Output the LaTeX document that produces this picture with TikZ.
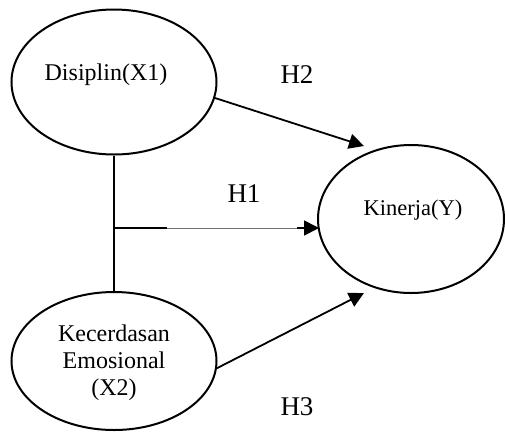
\documentclass[tikz,border=0pt]{standalone}
\usepackage{fontspec}
\setmainfont{Liberation Serif}
\usetikzlibrary{shapes.geometric,arrows.meta}
\tikzset{
  var/.style={draw, ellipse, line width=2pt, inner sep=0pt},
  txt/.style={font=\fontsize{24}{27}\selectfont, align=center, inner sep=0pt},
  hyp/.style={font=\fontsize{27}{30}\selectfont, inner sep=0pt},
  conn/.style={line width=1.8pt},
  arr/.style={line width=1.8pt, -{Triangle[length=15pt,width=15pt]}},
  thin/.style={line width=0.8pt, black!55}
}
\begin{document}
\begin{tikzpicture}[x=1pt,y=-1pt]
\useasboundingbox (0,0) rectangle (505,432);
\node[var, minimum width=205pt, minimum height=145pt] (X1) at (114,82) {};
\node[var, minimum width=205pt, minimum height=138pt] (X2) at (114,361) {};
\node[var, minimum width=186pt, minimum height=148pt] (Y) at (411,219) {};
\node[txt] (t1) at (106,75) {Disiplin(X1)};
\node[txt] (t2) at (114,363) {Kecerdasan\\Emosional\\(X2)};
\node[txt, font=\fontsize{22.5}{27}\selectfont] (t3) at (413,210) {Kinerja(Y)};
\node[hyp] (h2) at (297,75) {H2};
\node[hyp] (h1) at (244,194) {H1};
\node[hyp] (h3) at (297,407) {H3};
\coordinate (j) at (114,228);
\coordinate (k) at (167,228);
\coordinate (m) at (297,228);
\coordinate (e1) at (319,228);
\coordinate (e2) at (364,146);
\coordinate (e3) at (364,293);
\draw[conn] (X1.south) -- (X2.north);
\draw[conn] (j) -- (k);
\draw[thin] (k) -- (m);
\draw[arr] (m) -- (e1);
\draw[arr] (X1.-9) -- (e2);
\draw[arr] (X2.-4) -- (e3);
\end{tikzpicture}
\end{document}
